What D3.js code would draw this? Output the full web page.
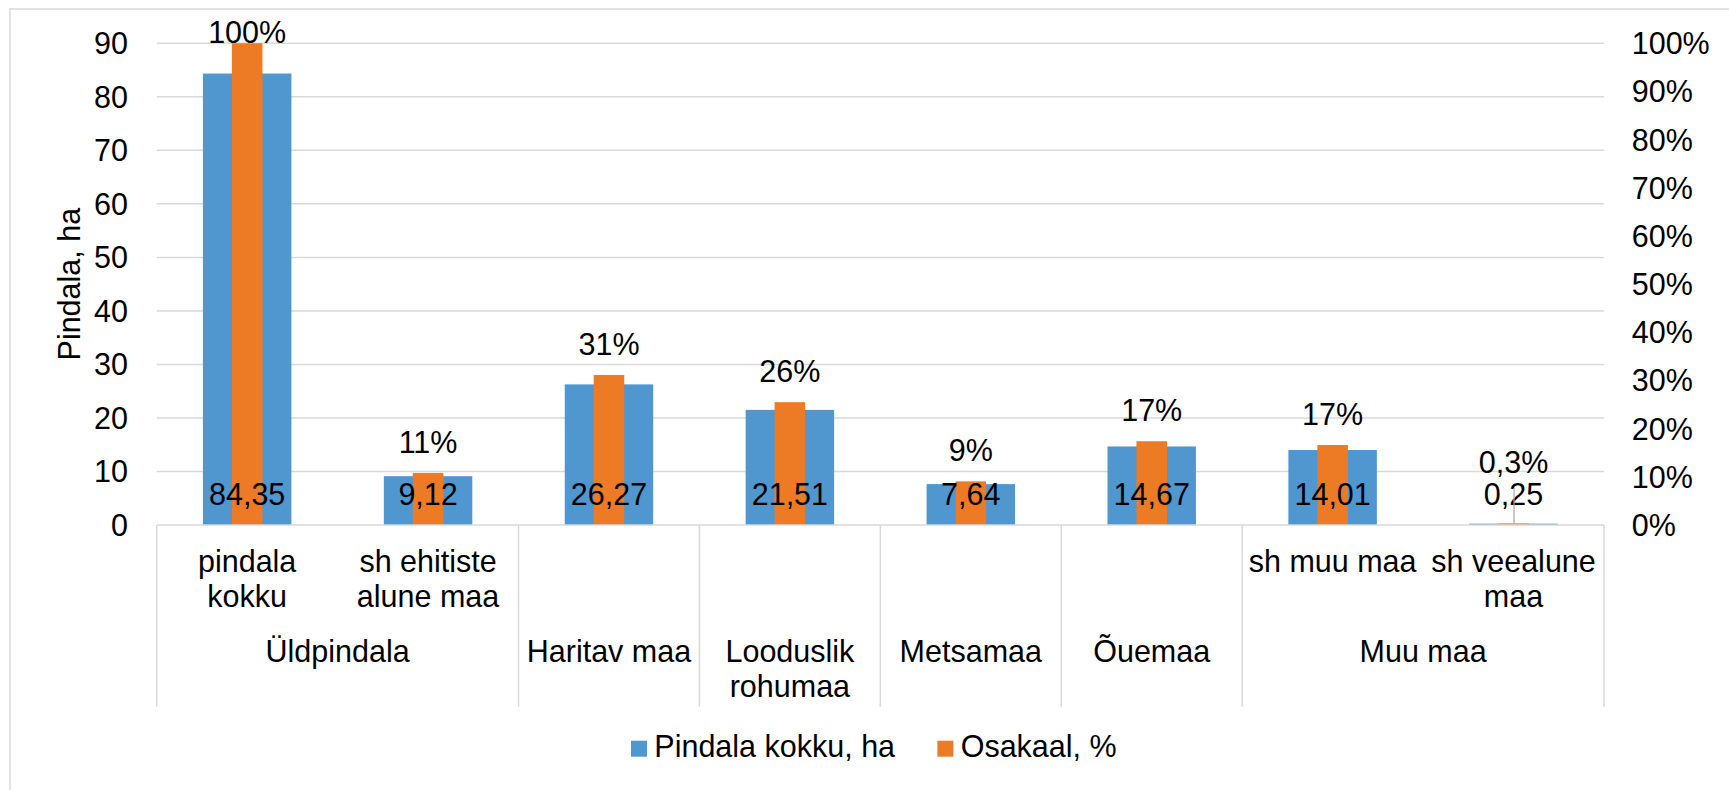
<!DOCTYPE html>
<html>
<head>
<meta charset="utf-8">
<script src="https://cdn.jsdelivr.net/npm/d3@7"></script>
<style>
  html, body { margin: 0; padding: 0; background: #fff; }
  svg { display: block; }
  text { font-family: "Liberation Sans", Arial, sans-serif; fill: #000; }
</style>
</head>
<body>
<svg id="chart" width="1729" height="790"></svg>
<script>
// ---- data ----
const leafLabels = [
  ["pindala", "kokku"],
  ["sh ehitiste", "alune maa"],
  [],
  [],
  [],
  [],
  ["sh muu maa"],
  ["sh veealune", "maa"]
];
const groupLabels = [
  { label: ["Üldpindala"], span: 2 },
  { label: ["Haritav maa"], span: 1 },
  { label: ["Looduslik", "rohumaa"], span: 1 },
  { label: ["Metsamaa"], span: 1 },
  { label: ["Õuemaa"], span: 1 },
  { label: ["Muu maa"], span: 2 }
];
const areaHa = [84.35, 9.12, 26.27, 21.51, 7.64, 14.67, 14.01, 0.25];
const sharePct = [100, 10.81, 31.14, 25.50, 9.06, 17.39, 16.61, 0.30];
const leftTicks = [0, 10, 20, 30, 40, 50, 60, 70, 80, 90];
const rightTicks = [0, 10, 20, 30, 40, 50, 60, 70, 80, 90, 100];
const seriesNames = ["Pindala kokku, ha", "Osakaal, %"];
const colors = ["#5096cf", "#ed7b26"];

// ---- layout ----
const svg = d3.select("#chart");
const W = 1729, H = 790;
const plot = { left: 156.7, right: 1604, top: 43.3, bottom: 525 };
const font = 30.5;
const grid = "#d9d9d9";

// outer chart border (extends past the visible frame)
svg.append("path")
  .attr("d", `M10,${H + 5}V9H${W + 5}`)
  .attr("fill", "none").attr("stroke", grid).attr("stroke-width", 1.5);

const idx = d3.range(areaHa.length);
const x = d3.scaleBand().domain(idx).range([plot.left, plot.right]).padding(0);
const yL = d3.scaleLinear().domain([0, 90]).range([plot.bottom, plot.top]);
const yR = d3.scaleLinear().domain([0, 100]).range([plot.bottom, plot.top]);

// gridlines
svg.append("g").selectAll("line").data(leftTicks.filter(d => d > 0)).join("line")
  .attr("x1", plot.left).attr("x2", plot.right)
  .attr("y1", d => yL(d)).attr("y2", d => yL(d))
  .attr("stroke", grid).attr("stroke-width", 1.5);

// left axis
const axL = svg.append("g").attr("transform", `translate(128,0)`)
  .call(d3.axisLeft(yL).tickValues(leftTicks).tickSize(0).tickPadding(0).tickFormat(d3.format("d")));
axL.select(".domain").remove();
axL.selectAll("text").style("font-size", font + "px")
  .style("font-family", '"Liberation Sans", Arial, sans-serif').attr("fill", "#000").attr("dy", "0.34em");

// right axis
const axR = svg.append("g").attr("transform", `translate(1631.7,0)`)
  .call(d3.axisRight(yR).tickValues(rightTicks).tickSize(0).tickPadding(0).tickFormat(d => d + "%"));
axR.select(".domain").remove();
axR.selectAll("text").style("font-size", font + "px")
  .style("font-family", '"Liberation Sans", Arial, sans-serif').attr("fill", "#000").attr("dy", "0.34em");

// y-axis title
svg.append("text")
  .attr("transform", `translate(79.5,${(plot.top + plot.bottom) / 2}) rotate(-90)`)
  .attr("text-anchor", "middle")
  .style("font-size", font + "px")
  .text("Pindala, ha");

// bars
const bw = x.bandwidth();
const blueW = bw * 0.489, orangeW = bw * 0.169;
svg.append("g").selectAll("rect").data(idx).join("rect")
  .attr("x", i => x(i) + (bw - blueW) / 2)
  .attr("width", blueW)
  .attr("y", i => yL(areaHa[i]))
  .attr("height", i => plot.bottom - yL(areaHa[i]))
  .attr("fill", colors[0]);
svg.append("g").selectAll("rect").data(idx).join("rect")
  .attr("x", i => x(i) + (bw - orangeW) / 2)
  .attr("width", orangeW)
  .attr("y", i => yR(sharePct[i]))
  .attr("height", i => plot.bottom - yR(sharePct[i]))
  .attr("fill", colors[1]);

// x-axis line
svg.append("line")
  .attr("x1", plot.left).attr("x2", plot.right)
  .attr("y1", plot.bottom).attr("y2", plot.bottom)
  .attr("stroke", grid).attr("stroke-width", 1.5);

// labels
const comma = v => String(v).replace(".", ",");
const blueBase = plot.bottom - 20;
svg.append("g").selectAll("text").data(idx).join("text")
  .attr("x", i => x(i) + bw / 2).attr("y", blueBase)
  .attr("text-anchor", "middle").style("font-size", font + "px")
  .text(i => comma(areaHa[i].toFixed(2)));

const pctText = v => v < 1 ? comma(v.toFixed(1)) + "%" : Math.round(v) + "%";
const small = i => sharePct[i] < 1;
svg.append("g").selectAll("text").data(idx).join("text")
  .attr("x", i => x(i) + bw / 2)
  .attr("y", i => small(i) ? blueBase - 32.5 : Math.max(yR(sharePct[i]) - 20, plot.top))
  .attr("text-anchor", "middle").style("font-size", font + "px")
  .text(i => pctText(sharePct[i]));
// leader line for the lifted label
svg.append("g").selectAll("line").data(idx.filter(small)).join("line")
  .attr("x1", i => x(i) + bw / 2 + 0.5).attr("x2", i => x(i) + bw / 2 + 0.5)
  .attr("y1", blueBase - 17).attr("y2", i => yR(sharePct[i]))
  .attr("stroke", "#a6a6a6").attr("stroke-width", 1.2);

// category labels (leaf row)
const leafG = svg.append("g");
idx.forEach(i => {
  const t = leafG.append("text").attr("text-anchor", "middle").style("font-size", font + "px");
  leafLabels[i].forEach((s, k) => {
    t.append("tspan").attr("x", x(i) + bw / 2).attr("y", 571.7 + k * 35).text(s);
  });
});

// group labels + dividers
let start = 0;
const grpG = svg.append("g");
groupLabels.forEach(g => {
  const x0 = x(start), x1 = x(start + g.span - 1) + bw;
  grpG.append("line").attr("x1", x0).attr("x2", x0)
    .attr("y1", plot.bottom).attr("y2", 706.7)
    .attr("stroke", grid).attr("stroke-width", 1.5);
  const t = grpG.append("text").attr("text-anchor", "middle").style("font-size", font + "px");
  g.label.forEach((s, k) => {
    t.append("tspan").attr("x", (x0 + x1) / 2).attr("y", 661.7 + k * 35).text(s);
  });
  start += g.span;
});
grpG.append("line").attr("x1", plot.right).attr("x2", plot.right)
  .attr("y1", plot.bottom).attr("y2", 706.7)
  .attr("stroke", grid).attr("stroke-width", 1.5);

// legend
const leg = svg.append("g").attr("transform", "translate(631,0)");
let lx = 0;
seriesNames.forEach((name, k) => {
  leg.append("rect").attr("x", lx).attr("y", 740.7).attr("width", 16).attr("height", 16).attr("fill", colors[k]);
  const t = leg.append("text").attr("x", lx + 23.3).attr("y", 757.3).style("font-size", font + "px").text(name);
  lx += 23.3 + t.node().getComputedTextLength() + 42.3;
});
</script>
</body>
</html>
